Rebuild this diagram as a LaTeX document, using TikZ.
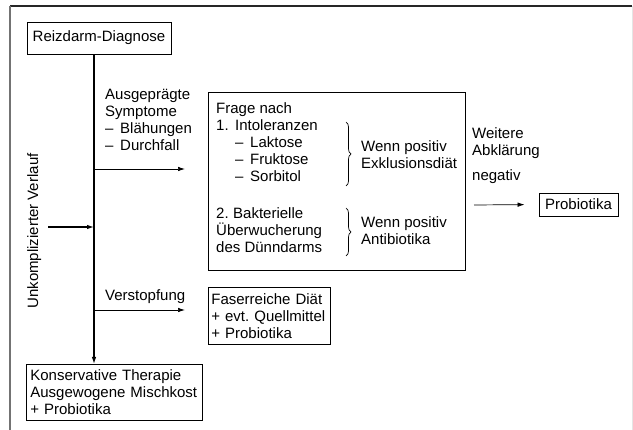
\documentclass[tikz,border=0pt]{standalone}
\usepackage{fontspec}
\setmainfont{Liberation Sans}
\usetikzlibrary{
    arrows.meta,
    decorations.pathreplacing,
    positioning
}

\tikzset{
    box/.style={draw, line width=0.8pt, inner sep=0pt},
    txt/.style={align=left, inner sep=0pt, anchor=base west},
    brc/.style={decorate, decoration={brace, amplitude=5pt}, line width=0.7pt},
    arr/.style={->, line width=0.7pt}
}

\begin{document}
\begin{tikzpicture}[x=1pt, y=-1pt, font=\fontsize{15}{17}\selectfont\frenchspacing, >={Latex[length=7pt,width=4.5pt]}]
    \useasboundingbox (0,0) rectangle (633,430);
    % frame
    \draw[line width=1.6pt, black!85] (10,6) -- (632,6);
    \draw[line width=1.6pt, black!55] (10,6) -- (10,430);
    \draw[line width=0.8pt, black!10] (632,6) -- (632,430);

    % left column
    \node[box, minimum width=144pt, minimum height=32pt] (diag) at (99,38) {Reizdarm-Diagnose};
    \node[box, anchor=north west, text width=168pt, inner xsep=4pt, minimum height=56pt, align=left] (kons) at (26,364)
        {Konservative Therapie\\Ausgewogene Mischkost\\+ Probiotika};
    \coordinate (trunk) at (94,0);
    \draw[->, line width=1.2pt] (diag.south -| trunk) -- (kons.north -| trunk);

    \node[txt, rotate=90, anchor=base] (unk) at (38,231) {Unkomplizierter Verlauf};
    \coordinate (u) at (48,227);
    \draw[->, line width=1.2pt] (u) -- (u -| trunk);

    % symptoms
    \node[txt] (sym) at (105,151) {Ausgeprägte\\Symptome\\\makebox[15pt][l]{–}Blähungen\\\makebox[15pt][l]{–}Durchfall};
    \coordinate (a1) at (185,169);
    \draw[arr] (a1 -| trunk) -- (a1);

    \node[txt] (obst) at (105,301) {Verstopfung};
    \coordinate (a2) at (185,310);
    \draw[arr] (a2 -| trunk) -- (a2);

    % question box
    \node[box, minimum width=257pt, minimum height=178pt] (frage) at (336.5,181) {};
    \node[txt] (frg) at (216,131) {Frage nach\\\makebox[19pt][l]{1.}Intoleranzen};
    \node[txt] (zuck) at (235,182) {\makebox[15pt][l]{–}Laktose\\\makebox[15pt][l]{–}Fruktose\\\makebox[15pt][l]{–}Sorbitol};
    \draw[brc] (346,122) -- (346,186);
    \node[txt] (exkl) at (361,169) {Wenn positiv\\Exklusionsdiät};

    \node[txt] (bak) at (216,253) {\makebox[17pt][l]{2.}Bakterielle\\Überwucherung\\des Dünndarms};
    \draw[brc] (346,208) -- (346,256);
    \node[txt] (anti) at (361,245) {Wenn positiv\\Antibiotika};

    % further
    \node[txt] (weit) at (472,156) {Weitere\\Abklärung};
    \node[txt] (neg) at (472,181) {negativ};
    \node[box, minimum width=79pt, minimum height=23pt] (prob) at (578.5,204.5) {Probiotika};
    \coordinate (a3) at (474,205);
    \draw[arr, shorten >=14pt] (a3) -- (prob.west);

    % fibre
    \node[box, anchor=north west, text width=116pt, inner xsep=3pt, minimum height=57pt, align=left] (faser) at (208,287)
        {Faserreiche Diät\\+ evt. Quellmittel\\+ Probiotika};
\end{tikzpicture}
\end{document}
